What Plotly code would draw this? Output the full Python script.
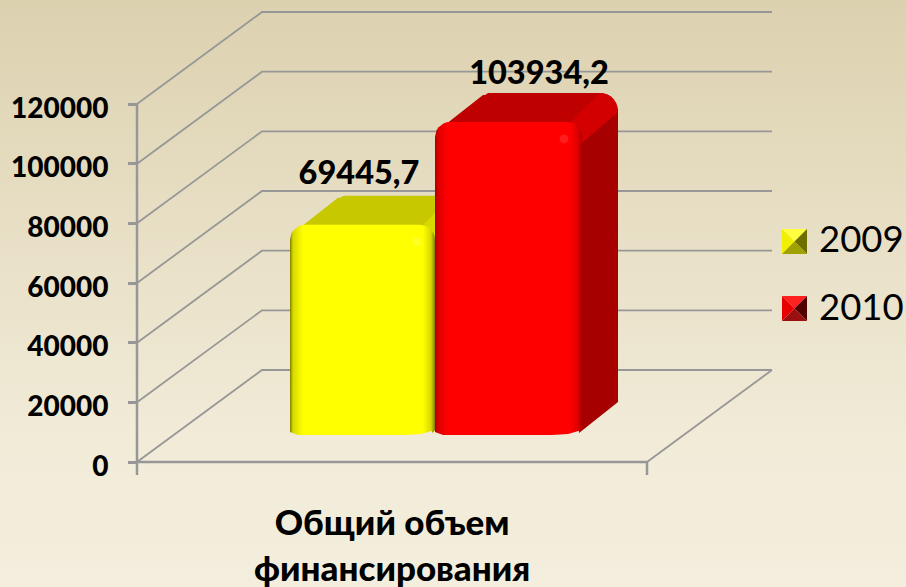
import numpy as np
import plotly.graph_objects as go

# ---- data ----
categories = ["Общий объем<br>финансирования"]
series_names = ["2009", "2010"]
values_2009 = [69445.7]
values_2010 = [103934.2]
value_labels = ["69445,7", "103934,2"]
tick_values = [0, 20000, 40000, 60000, 80000, 100000, 120000]

FONT = "Lato, 'Open Sans', sans-serif"
W, H = 906, 587
PX_ZERO, PX_TOP = 462, 104
K = (PX_ZERO - PX_TOP) / tick_values[-1]      # pixels per unit


def val(py):
    """pixel row -> value on the y axis"""
    return (PX_ZERO - np.asarray(py, dtype=float)) / K


def poly(pts, color=None, gradient=None, name=None):
    xs = [p[0] for p in pts] + [pts[0][0]]
    ys = [p[1] for p in pts] + [pts[0][1]]
    t = go.Scatter(x=xs, y=list(val(ys)), mode="lines", fill="toself",
                   line=dict(width=0), hoverinfo="skip", showlegend=False)
    if gradient:
        t.fillgradient = gradient
    else:
        t.fillcolor = color
    if name:
        t.name = name
    return t


def arc(cx, cy, r, a0, a1, n=8):
    a = np.radians(np.linspace(a0, a1, n))
    return [(cx + r * np.cos(v), cy - r * np.sin(v)) for v in a]


fig = go.Figure()

# page background
fig.add_trace(go.Scatter(
    x=[0, W, W, 0, 0], y=list(val([0, 0, H, H, 0])), mode="lines", fill="toself",
    line=dict(width=0), hoverinfo="skip", showlegend=False,
    fillgradient=dict(type="vertical",
                      colorscale=[[0, "#F3EEDD"], [0.25, "#F1EBD8"], [0.7, "#E5DCC0"], [1, "#DCD1AF"]])))

GRID = "#979797"
DX, DY = 125, 92
X0, X1 = 137, 647


def line(xs, pys, width=1.8):
    return go.Scatter(x=xs, y=list(val(pys)), mode="lines", line=dict(color=GRID, width=width),
                      hoverinfo="skip", showlegend=False)


# walls
for t in tick_values:
    py = PX_ZERO - t * K
    fig.add_trace(line([X0, X0 + DX, X1 + DX], [py, py - DY, py - DY]))
fig.add_trace(line([X1, X1 + DX], [PX_ZERO, PX_ZERO - DY]))
fig.add_trace(line([X0, X0], [PX_TOP, PX_ZERO], 2.5))
fig.add_trace(line([X0, X1], [PX_ZERO, PX_ZERO], 2.5))
fig.add_trace(line([X0, X0], [PX_ZERO, PX_ZERO + 13], 2.5))
fig.add_trace(line([X1, X1], [PX_ZERO, PX_ZERO + 13], 2.5))


# 3-D bars, computed from the values
def bar(value, xl, xr, pal, label):
    base, floor = 432, 435
    top = base - value * K
    sx, sy = 36, 29
    r = 15
    # side face
    fig.add_trace(poly([(xr - 2, top + 8), (xr + sx - 10, top - sy + 8), (xr + sx, top - sy + 16),
                        (xr + sx, floor - 33), (xr - 3, floor - 2)], pal["side"]))
    # top face
    fig.add_trace(poly([(xl + 6, top + 6), (xl + sx + 12, top - sy + 2)]
                       + arc(xl + sx + 19, top - sy + 7, 7, 135, 90)
                       + arc(xr + sx - 18, top - sy + 18, 18, 90, 0)[:5]
                       + [(xr + 2, top + 10), (xr - 6, top + 4)], pal["top"]))
    # bevel at the corner between top and side
    fig.add_trace(poly([(xr - 12, top), (xr + 18, top - sy)] + arc(xr + sx - 18, top - sy + 18, 18, 90, 0)
                       + [(xr + sx, top - 10), (xr, top + 21)], pal["corner"]))
    # front face with soft rounded edges
    front = (arc(xl + r, top + r, r, 180, 90) + arc(xr - r, top + r, r, 90, 0)
             + [(xr, floor - 5)] + [(xr - 14, floor - 1), (xr - 30, floor)]
             + [(xl + 8, floor), (xl, floor - 3)])
    w = xr - xl
    stops = [[0, pal["dark"]], [3 / w, pal["mid"]], [13 / w, pal["front"]],
             [1 - 12 / w, pal["front"]], [1 - 4 / w, pal["mid"]], [1, pal["dark"]]]
    fig.add_trace(poly(front, gradient=dict(type="horizontal", colorscale=stops), name=label))
    # small highlight
    fig.add_trace(go.Scatter(x=[xr - 18], y=list(val([top + 17])), mode="markers",
                             marker=dict(size=9, color=pal["glow"], opacity=0.45, line=dict(width=0)),
                             hoverinfo="skip", showlegend=False))
    return top


yellow = dict(front="#FFFF00", mid="#D8D800", dark="#7F7F00", top="#C8C800", side="#A6A600",
              corner="#D8D800", glow="#FFFF50")
red = dict(front="#FF0000", mid="#DC0000", dark="#A80000", top="#BE0000", side="#A60000",
           corner="#D20000", glow="#FF4040")

top_2009 = bar(values_2009[0], 290, 435, yellow, series_names[0])
top_2010 = bar(values_2010[0], 435, 582, red, series_names[1])

# data labels
fig.add_trace(go.Scatter(
    x=[359, 539],
    y=list(val([top_2009 - 49, top_2010 - 46])),
    mode="text", text=value_labels, textposition="middle center",
    textfont=dict(family=FONT, size=32.5, color="#000000", weight=900),
    hoverinfo="skip", showlegend=False))


# legend keys with their bevels
def key(x, y, s, c):
    m = (x + s / 2, y + s / 2)
    a, b, d, e = (x, y), (x + s, y), (x + s, y + s), (x, y + s)
    fig.add_trace(poly([a, b, m], c[0]))
    fig.add_trace(poly([a, e, m], c[1]))
    fig.add_trace(poly([b, d, m], c[2]))
    fig.add_trace(poly([e, d, m], c[3]))


key(782, 229, 25, ["#FFFF40", "#F0F000", "#6E6E00", "#A0A000"])
key(782, 296, 25, ["#FF2020", "#E80000", "#500000", "#9A1010"])

annotations = [
    dict(x=392, y=float(val(544)), xref="x", yref="y", text=categories[0], showarrow=False,
         font=dict(family=FONT, size=35, color="#000000", weight=900), align="center", yanchor="middle"),
    dict(x=817, y=float(val(238)), xref="x", yref="y", text=series_names[0], showarrow=False,
         xanchor="left", font=dict(family=FONT, size=36.5, color="#000000")),
    dict(x=817, y=float(val(306)), xref="x", yref="y", text=series_names[1], showarrow=False,
         xanchor="left", font=dict(family=FONT, size=36.5, color="#000000")),
]

fig.update_layout(
    width=W, height=H, margin=dict(l=0, r=0, t=0, b=0),
    paper_bgcolor="#EDE6CF", plot_bgcolor="rgba(0,0,0,0)",
    showlegend=False, annotations=annotations,
    xaxis=dict(range=[0, W], visible=False, fixedrange=True, domain=[0, 1]),
    yaxis=dict(range=[float(val(H)), float(val(0))], anchor="free", position=X0 / W,
               tickmode="array", tickvals=tick_values, ticktext=[str(v) for v in tick_values],
               ticks="outside", ticklen=9, tickwidth=2.5, tickcolor=GRID, showgrid=False,
               zeroline=False, showline=False, fixedrange=True, ticklabelstandoff=14,
               ticklabelshift=4,
               tickfont=dict(family=FONT, size=28, color="#000000", weight=900)),
)

fig.write_html("out.html", config={"displayModeBar": False},
               post_script="document.documentElement.style.overflow='hidden';document.body.style.margin='0';")
